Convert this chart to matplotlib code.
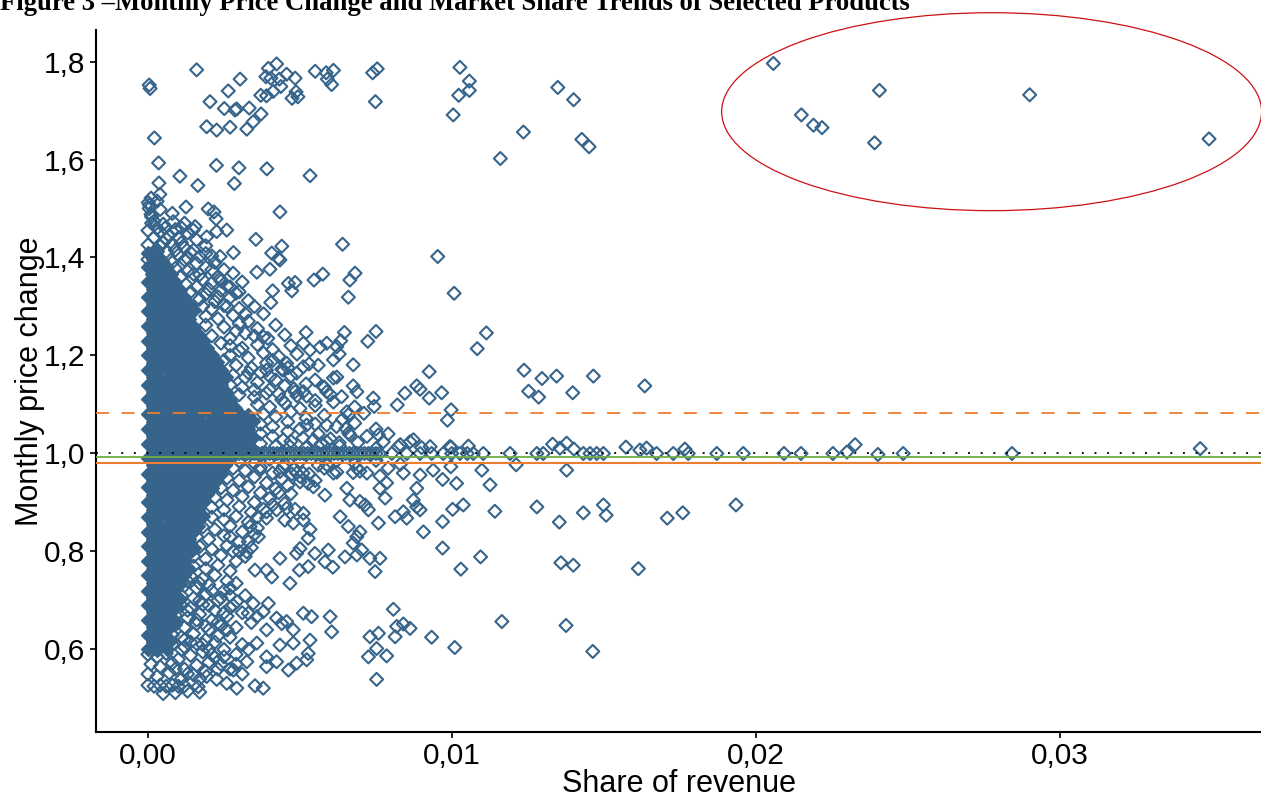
import matplotlib
matplotlib.use("Agg")
import matplotlib.pyplot as plt
from matplotlib.patches import Ellipse
from matplotlib.ticker import FuncFormatter, FixedLocator
import numpy as np

plt.rcParams['font.family'] = ['Liberation Sans', 'DejaVu Sans']
plt.rcParams['lines.scale_dashes'] = False

# ---------------- data (share of revenue, monthly price change) ----------------
outlier_share = [0.02057, 0.02149, 0.02189, 0.02217, 0.02406, 0.02390, 0.02900, 0.03490]
outlier_price = [1.796, 1.691, 1.670, 1.665, 1.741, 1.634, 1.732, 1.642]

flat_points = [
    (.0030, 1.0), (.00312, 1.0), (.00325, 1.0), (.00337, 1.0), (.0035, 1.0), (.00362, 1.0), (.00375, 1.0),
    (.00388, 1.0), (.0040, 1.0), (.00412, 1.0), (.00425, 1.0), (.00437, 1.0), (.0045, 1.0), (.00462, 1.0),
    (.00475, 1.0), (.00488, 1.0), (.0050, 1.0), (.00512, 1.0), (.00525, 1.0), (.00537, 1.0), (.0055, 1.0),
    (.00562, 1.0), (.00575, 1.0), (.00588, 1.0), (.0060, 1.0), (.00612, 1.0), (.00625, 1.0), (.00637, 1.0),
    (.0065, 1.0), (.00662, 1.0), (.00675, 1.0), (.00688, 1.0), (.0070, 1.0), (.00712, 1.0), (.00725, 1.0),
    (.00737, 1.0), (.0075, 1.0), (.00762, 1.0), (.00802, 1.0), (.00851, 1.0), (.00895, 1.0), (.00933, 1.0),
    (.00971, 1.0), (.00999, 1.0), (.01026, 1.0), (.0105, 1.0), (.0107, 1.0), (.01103, 1.0), (.01191, 1.0),
    (.01279, 1.0), (.0130, 1.0), (.01432, 1.0), (.01454, 1.0), (.01476, 1.0), (.01498, 1.0), (.01673, 1.0),
    (.01728, 1.0), (.01777, 1.0), (.01871, 1.0), (.01958, 1.0), (.02092, 1.0), (.02148, 1.0), (.02253, 1.0),
    (.02484, 1.0), (.02842, 1.0), (.00997, 1.013), (.01054, 1.015), (.01331, 1.019), (.01355, 1.011),
    (.01377, 1.021), (.01401, 1.009), (.01572, 1.013), (.01618, 1.007), (.0164, 1.011), (.01766, 1.009),
    (.02299, 1.003), (.02326, 1.018), (.02401, 0.998), (.03461, 1.010),
]

sparse_upper = [
    (.00004, 1.752), (.00007, 1.745), (.0016, 1.783), (.00303, 1.764), (.00264, 1.740), (.00204, 1.718),
    (.00251, 1.704), (.00292, 1.703), (.00286, 1.701), (.00333, 1.705), (.00371, 1.731), (.00396, 1.786),
    (.00423, 1.795), (.00388, 1.769), (.00404, 1.766), (.00432, 1.764), (.00456, 1.774), (.00484, 1.766),
    (.00437, 1.749), (.00412, 1.739), (.0039, 1.730), (.00487, 1.738), (.00474, 1.725), (.00493, 1.728),
    (.0055, 1.780), (.00586, 1.777), (.0061, 1.782), (.0059, 1.764), (.00604, 1.753), (.00739, 1.777),
    (.00754, 1.785), (.00748, 1.718), (.00372, 1.693), (.00346, 1.677), (.00325, 1.662), (.00193, 1.667),
    (.00226, 1.660), (.0027, 1.666), (.00021, 1.644), (.00035, 1.593), (.00225, 1.588), (.00299, 1.583),
    (.00391, 1.581), (.00105, 1.566), (.00533, 1.567), (.00036, 1.552), (.00164, 1.547), (.00284, 1.551),
    (.00039, 1.529), (.00001, 1.512), (.00004, 1.500), (.00125, 1.503), (.00198, 1.499), (.00217, 1.493),
    (.00224, 1.479), (.00434, 1.493), (.00012, 1.483), (.00012, 1.470), (.00083, 1.473), (.00056, 1.460),
    (.00111, 1.460), (.00155, 1.463), (.00149, 1.456), (.00226, 1.453), (.00259, 1.456), (.00193, 1.442),
    (.00355, 1.437), (.0064, 1.427), (.0044, 1.423), (.00953, 1.402), (.00407, 1.409), (.00429, 1.398),
    (.00434, 1.395), (.00281, 1.410), (.00237, 1.402), (.0021, 1.403),
    (.01026, 1.788), (.01057, 1.760), (.01057, 1.741), (.01022, 1.731), (.01004, 1.691), (.01348, 1.747),
    (.0140, 1.722), (.01235, 1.656), (.01427, 1.641), (.01451, 1.626), (.01159, 1.602), (.01007, 1.327),
    (.01113, 1.246), (.01083, 1.214),
    (.00401, 1.376), (.00575, 1.366), (.00546, 1.354), (.00462, 1.347), (.00484, 1.349), (.00473, 1.332),
    (.0041, 1.332), (.00404, 1.308), (.00681, 1.368), (.00664, 1.354), (.00659, 1.319), (.00237, 1.357),
    (.00358, 1.370),
]

sparse_middle = [
    (.0052, 1.247), (.00394, 1.235), (.00646, 1.247), (.0075, 1.249), (.00723, 1.229), (.00634, 1.230),
    (.00621, 1.218), (.00588, 1.225), (.00566, 1.217), (.00511, 1.225), (.00533, 1.211), (.00629, 1.203),
    (.0061, 1.191), (.0056, 1.180), (.00675, 1.181), (.00925, 1.167), (.00511, 1.177), (.00489, 1.164),
    (.00456, 1.184), (.00445, 1.170), (.0061, 1.154), (.00621, 1.156), (.00577, 1.136), (.00588, 1.126),
    (.00675, 1.138), (.00687, 1.126), (.00637, 1.116), (.00741, 1.113), (.00744, 1.096), (.0082, 1.099),
    (.00845, 1.123), (.00884, 1.138), (.00895, 1.131), (.00925, 1.113), (.00522, 1.117), (.00484, 1.126),
    (.00511, 1.126), (.0039, 1.170), (.00401, 1.157), (.00522, 1.058), (.00588, 1.058), (.00654, 1.085),
    (.00659, 1.079), (.00664, 1.038), (.00651, 1.051), (.00758, 1.038), (.00774, 1.024), (.00823, 1.014),
    (.00862, 1.024), (.00873, 1.028), (.00928, 1.014), (.00993, 1.014), (.00588, 1.024), (.00629, 1.022),
    (.00544, 1.028), (.00445, 1.028), (.00467, 1.014),
    (.01237, 1.170), (.01296, 1.153), (.01344, 1.158), (.01465, 1.158), (.01252, 1.127), (.01285, 1.115),
    (.01397, 1.124), (.01634, 1.138), (.00966, 1.124), (.00997, 1.089), (.00985, 1.068),
]

sparse_lower = [
    (.00996, .973), (.01098, .966), (.01211, .977), (.01377, .966), (.00969, .947), (.01015, .939),
    (.01125, .936), (.01002, .886), (.01037, .895), (.01141, .882), (.01279, .891), (.01353, .860),
    (.01432, .879), (.01498, .895), (.01507, .874), (.01708, .868), (.01759, .879), (.01934, .895),
    (.00969, .861), (.00969, .807), (.01094, .789), (.01029, .764), (.01358, .777), (.01399, .772),
    (.01613, .765), (.01164, .657), (.01375, .649), (.01009, .604), (.01463, .596),
    (.00588, .977), (.0061, .960), (.00687, .970), (.0072, .960), (.0079, .970), (.0084, .960),
    (.00895, .956), (.00938, .966), (.00445, .973), (.00489, .960), (.00368, .966), (.00434, .963),
    (.00473, .958), (.0050, .953), (.00621, .962), (.00675, .961), (.00697, .964), (.00763, .954),
    (.00527, .939), (.00544, .932), (.00582, .915), (.00654, .929), (.00664, .905), (.00697, .902),
    (.00714, .895), (.00725, .885), (.00763, .929), (.00785, .940), (.0078, .909), (.00884, .929),
    (.00873, .905), (.00884, .891), (.00895, .885), (.00813, .871), (.0084, .881), (.00851, .868),
    (.00758, .858), (.00906, .840),
    (.0039, .881), (.00423, .885), (.00456, .888), (.00484, .886), (.00511, .878), (.0045, .864),
    (.00478, .858), (.00511, .864), (.00533, .845), (.00527, .827), (.0050, .806), (.00489, .796),
    (.00549, .796), (.00593, .803), (.00582, .779), (.00608, .768), (.00527, .769), (.00498, .762),
    (.00467, .735), (.00434, .786), (.00407, .748), (.0039, .762), (.00352, .762), (.00325, .799),
    (.00363, .830), (.00336, .851), (.00648, .789), (.00687, .793), (.00703, .803), (.0073, .786),
    (.00763, .786), (.00747, .759), (.00675, .817), (.00687, .830), (.00697, .840), (.00659, .851),
    (.00632, .871),
    (.0027, .725), (.00292, .698), (.00346, .694), (.00396, .694), (.0033, .674), (.00358, .667),
    (.00379, .677), (.00423, .664), (.0044, .653), (.00456, .657), (.00511, .674), (.00538, .667),
    (.00599, .667), (.00604, .636), (.00533, .619), (.00478, .640), (.00478, .613), (.00434, .609),
    (.0039, .640), (.00358, .613), (.0039, .585), (.00423, .575), (.00462, .558), (.00489, .572),
    (.00522, .579), (.00527, .592), (.0039, .565), (.00325, .575), (.00281, .558), (.00226, .539),
    (.00259, .531), (.00292, .521), (.00352, .526), (.00379, .521), (.00165, .524), (.00193, .545),
    (.0073, .626), (.00758, .633), (.00807, .682), (.00818, .647), (.0084, .652), (.00862, .643),
    (.00813, .626), (.00933, .625), (.00752, .602), (.00725, .585), (.00785, .587), (.00752, .539),
]

fringe_upper = [
    (.0001, 1.521), (.0003, 1.515), (.00005, 1.507), (.0004, 1.498), (.0001, 1.488), (.0008, 1.490),
    (.0002, 1.474), (.0005, 1.468), (.0012, 1.470), (0, 1.455), (.0004, 1.452), (.0009, 1.457),
    (.0013, 1.450), (.0002, 1.441), (.0006, 1.438), (.0010, 1.440), (.0016, 1.436), (0, 1.426),
    (.0004, 1.423), (.0008, 1.428), (.0012, 1.420), (.0019, 1.424), (.0002, 1.410), (.0006, 1.412),
    (.0010, 1.405), (.0014, 1.410), (.0017, 1.402), (0, 1.396), (.0008, 1.390), (.0012, 1.395),
    (.0016, 1.388), (.0022, 1.390), (.0009, 1.378), (.0013, 1.372), (.0019, 1.380), (.0025, 1.375),
    (.0011, 1.362), (.0015, 1.366), (.0018, 1.355), (.0023, 1.360), (.0028, 1.368), (.00125, 1.345),
    (.0016, 1.340), (.0021, 1.348), (.0026, 1.342), (.0031, 1.350), (.0014, 1.330), (.0019, 1.325),
    (.0024, 1.333), (.0029, 1.327), (.0017, 1.315), (.0022, 1.310), (.0027, 1.318), (.0033, 1.312),
    (.0018, 1.300), (.0021, 1.295), (.0025, 1.302), (.0030, 1.296), (.0035, 1.300), (.0019, 1.280),
    (.0023, 1.275), (.0028, 1.282), (.0033, 1.270), (.0038, 1.285), (.0019, 1.262), (.0025, 1.258),
    (.0030, 1.265), (.0036, 1.255), (.0042, 1.262), (.0021, 1.240), (.0027, 1.235), (.0032, 1.245),
    (.0038, 1.238), (.0045, 1.242), (.0027, 1.220), (.0031, 1.215), (.0036, 1.222), (.0041, 1.212),
    (.0047, 1.220), (.0027, 1.200), (.0033, 1.195), (.0038, 1.205), (.0043, 1.198), (.0049, 1.203),
    (.0029, 1.180), (.0034, 1.175), (.0039, 1.185), (.0044, 1.172), (.0053, 1.183), (.0028, 1.160),
    (.0032, 1.155), (.0037, 1.165), (.0042, 1.150), (.0047, 1.158), (.0055, 1.150), (.0027, 1.140),
    (.0031, 1.135), (.0036, 1.145), (.0040, 1.130), (.0045, 1.138), (.0052, 1.142), (.0058, 1.135),
    (.0030, 1.120), (.0035, 1.115), (.0039, 1.123), (.0044, 1.110), (.0049, 1.118), (.0055, 1.108),
    (.0060, 1.120), (.0036, 1.100), (.0040, 1.095), (.0045, 1.103), (.0050, 1.092), (.0055, 1.098),
    (.0061, 1.105), (.0068, 1.095), (.0038, 1.080), (.0042, 1.075), (.0047, 1.085), (.0052, 1.072),
    (.0058, 1.078), (.0064, 1.070), (.0071, 1.082), (.0037, 1.060), (.0041, 1.055), (.0046, 1.065),
    (.0050, 1.050), (.0055, 1.060), (.0062, 1.055), (.0068, 1.062), (.0075, 1.050), (.0037, 1.040),
    (.0041, 1.035), (.0046, 1.045), (.0051, 1.032), (.0056, 1.040), (.0060, 1.030), (.0066, 1.042),
    (.0072, 1.035), (.0079, 1.040), (.0037, 1.020), (.0042, 1.015), (.0047, 1.025), (.0052, 1.012),
    (.0057, 1.020), (.0063, 1.015), (.0069, 1.022), (.0075, 1.010), (.0083, 1.018), (.0090, 1.012),
    (.0003, 1.460), (.0007, 1.445), (.0011, 1.430), (.0015, 1.415), (.0005, 1.430), (.0009, 1.415),
    (.0013, 1.398), (.0019, 1.408), (.0021, 1.375), (.0017, 1.365), (.0024, 1.352), (.0020, 1.335),
    (.0027, 1.340), (.0023, 1.320), (.0030, 1.330), (.0026, 1.300), (.0032, 1.285), (.0029, 1.250),
    (.0035, 1.240), (.0024, 1.225), (.0030, 1.210), (.0025, 1.190), (.0033, 1.165), (.0041, 1.190),
    (.0046, 1.175), (.0035, 1.130), (.0043, 1.122), (.0048, 1.132),
]

fringe_lower = [
    (.0030, .985), (.0035, .980), (.0040, .988), (.0045, .978), (.0050, .984), (.0056, .976),
    (.0062, .985), (.0068, .980), (.0075, .986), (.0083, .978), (.0028, .970), (.0032, .965),
    (.0037, .972), (.0041, .960), (.0048, .968), (.0053, .958), (.0058, .970), (.0026, .950),
    (.0030, .945), (.0035, .952), (.0039, .940), (.0044, .948), (.0050, .942), (.0024, .930),
    (.0028, .925), (.0033, .932), (.0037, .920), (.0042, .928), (.0047, .918), (.0022, .910),
    (.0026, .905), (.0031, .912), (.0035, .900), (.0040, .908), (.0045, .898), (.0021, .890),
    (.0025, .885), (.0030, .892), (.0034, .880), (.0038, .886), (.0021, .870), (.0025, .865),
    (.0029, .872), (.0033, .860), (.0039, .868), (.0018, .850), (.0022, .845), (.0027, .852),
    (.0031, .840), (.0036, .848), (.0016, .830), (.0020, .825), (.0025, .832), (.0030, .820),
    (.0035, .835), (.0017, .810), (.0021, .805), (.0026, .812), (.0030, .800), (.0034, .808),
    (.0015, .790), (.0019, .785), (.0024, .792), (.0029, .780), (.0015, .770), (.0019, .765),
    (.0023, .772), (.0027, .760), (.0014, .750), (.0018, .745), (.0022, .752), (.0026, .740),
    (.0012, .730), (.0016, .725), (.0020, .732), (.0025, .720), (.0011, .710), (.0015, .705),
    (.0019, .712), (.0023, .700), (.0011, .690), (.0014, .685), (.0018, .692), (.0022, .680),
    (.0027, .686), (.0009, .670), (.0013, .665), (.0017, .672), (.0021, .660), (.0026, .668),
    (.0009, .650), (.0012, .645), (.0016, .652), (.0020, .640), (.0024, .648), (.0008, .630),
    (.0011, .625), (.0015, .632), (.0019, .620), (.0023, .628), (.0008, .610), (.0012, .605),
    (.0016, .612), (.0020, .600), (0, .590), (.0003, .585), (.0006, .592), (.0010, .580),
    (.0014, .588), (.0018, .595), (.0022, .584), (.0001, .570), (.0004, .565), (.0008, .572),
    (.0012, .560), (.0016, .568), (.0020, .574), (0, .550), (.0003, .545), (.0007, .552),
    (.0011, .540), (.0015, .548), (.0019, .555), (0, .527), (.0002, .525), (.0004, .527),
    (.0006, .525), (.0008, .527), (.0010, .525), (.0012, .526), (.0005, .510), (.0009, .512),
    (.0013, .515), (.0017, .513), (.0029, .735), (.0032, .710), (.0028, .690), (.0031, .675),
    (.0034, .655), (.0029, .645), (.0027, .625), (.0031, .610), (.0025, .600), (.0029, .590),
    (.0033, .600), (.0024, .570), (.0027, .560), (.0031, .550),
    (.0013, .740), (.0017, .735), (.0021, .720), (.0024, .705), (.0027, .710), (.0017, .700),
    (.0020, .690), (.0025, .675), (.0013, .680), (.0016, .660), (.0019, .648), (.0023, .655),
    (.0012, .620), (.0014, .615), (.0018, .610), (.0022, .615), (.0026, .640), (.0021, .590),
    (.0025, .585), (.0011, .600), (.0009, .560), (.0013, .550), (.0017, .540), (.0023, .560),
    (.0029, .570), (.0028, .800), (.0032, .790), (.0027, .830), (.0033, .820), (.0036, .870),
    (.0041, .895), (.0043, .920), (.0046, .935), (.0051, .960), (.0055, .945),
]

core_upper = [
    (0, 1.410), (.0003, 1.413), (.00016, 1.396), (.00046, 1.393), (0, 1.381), (.00031, 1.378), (.0006, 1.382),
    (.00014, 1.366), (.00045, 1.363), (.00076, 1.367), (0, 1.351), (.0003, 1.348), (.00061, 1.352), (.0009, 1.349),
    (.00015, 1.336), (.00044, 1.333), (.00075, 1.337), (.00106, 1.334),
    (0, 1.319), (.00031, 1.322), (.0006, 1.318), (.00089, 1.321), (.0012, 1.320),
    (.00016, 1.306), (.00045, 1.303), (.00074, 1.307), (.00105, 1.304), (.00136, 1.305),
    (0, 1.291), (.0003, 1.288), (.00061, 1.292), (.0009, 1.289), (.00121, 1.290), (.0015, 1.292),
    (.00015, 1.274), (.00046, 1.277), (.00075, 1.273), (.00104, 1.276), (.00135, 1.275),
    (0, 1.261), (.00029, 1.258), (.0006, 1.262), (.00091, 1.259), (.0012, 1.261), (.0015, 1.258),
    (.00015, 1.246), (.00045, 1.243), (.00076, 1.247), (.00105, 1.244), (.00134, 1.246), (.00166, 1.243),
    (0, 1.229), (.0003, 1.232), (.00061, 1.228), (.0009, 1.231), (.00119, 1.229), (.0015, 1.232), (.00181, 1.230),
    (.00015, 1.216), (.00046, 1.213), (.00075, 1.217), (.00104, 1.214), (.00136, 1.216), (.00165, 1.213), (.00195, 1.215),
    (0, 1.201), (.0003, 1.198), (.0006, 1.202), (.00091, 1.199), (.0012, 1.201), (.00149, 1.198), (.0018, 1.202), (.0021, 1.200),
    (.00015, 1.184), (.00045, 1.187), (.00076, 1.183), (.00105, 1.186), (.00134, 1.184), (.00166, 1.187), (.00195, 1.183), (.00226, 1.186),
    (0, 1.171), (.0003, 1.168), (.00061, 1.172), (.0009, 1.169), (.0012, 1.171), (.00151, 1.168), (.0018, 1.172), (.00209, 1.169), (.0024, 1.171),
    (.00015, 1.156), (.00044, 1.153), (.00075, 1.157), (.00106, 1.154), (.00135, 1.156), (.00164, 1.153), (.00195, 1.157), (.00225, 1.154), (.00256, 1.156),
    (0, 1.139), (.00031, 1.142), (.0006, 1.138), (.00089, 1.141), (.0012, 1.139), (.0015, 1.142), (.00181, 1.138), (.0021, 1.141), (.00239, 1.139),
    (.00016, 1.126), (.00045, 1.123), (.00074, 1.127), (.00105, 1.124), (.00136, 1.126), (.00165, 1.123), (.00194, 1.127), (.00225, 1.124), (.00255, 1.126),
    (0, 1.111), (.0003, 1.108), (.00061, 1.112), (.0009, 1.109), (.00119, 1.111), (.0015, 1.108), (.00181, 1.112), (.0021, 1.109), (.0024, 1.111), (.0027, 1.108),
    (.00015, 1.096), (.00046, 1.093), (.00075, 1.097), (.00104, 1.094), (.00135, 1.096), (.00166, 1.093), (.00195, 1.097), (.00224, 1.094), (.00255, 1.096), (.00286, 1.093),
    (0, 1.081), (.0003, 1.078), (.0006, 1.082), (.00091, 1.079), (.0012, 1.081), (.0015, 1.078), (.00179, 1.082), (.0021, 1.079), (.00241, 1.081), (.0027, 1.078), (.0030, 1.082), (.0033, 1.079),
    (.00015, 1.064), (.00045, 1.067), (.00076, 1.063), (.00105, 1.066), (.00134, 1.064), (.00165, 1.067), (.00196, 1.063), (.00225, 1.066), (.00254, 1.064), (.00285, 1.067), (.00316, 1.063), (.00345, 1.066),
    (0, 1.051), (.00031, 1.048), (.0006, 1.052), (.00089, 1.049), (.0012, 1.051), (.00151, 1.048), (.0018, 1.052), (.0021, 1.049), (.00239, 1.051), (.0027, 1.048), (.00301, 1.052), (.0033, 1.049),
    (.00015, 1.036), (.00045, 1.033), (.00074, 1.037), (.00105, 1.034), (.00136, 1.036), (.00165, 1.033), (.00194, 1.037), (.00225, 1.034), (.00256, 1.036), (.00285, 1.033), (.00314, 1.037), (.00345, 1.034),
    (0, 1.019), (.0003, 1.022), (.00061, 1.018), (.0009, 1.021), (.00119, 1.019), (.0015, 1.022), (.00181, 1.018), (.0021, 1.021), (.00239, 1.019), (.0027, 1.022), (.00301, 1.018), (.0033, 1.021),
    (.00015, 1.006), (.00046, 1.003), (.00075, 1.007), (.00104, 1.004), (.00135, 1.006), (.00166, 1.003), (.00195, 1.007), (.00224, 1.004), (.00255, 1.006), (.00286, 1.003), (.00315, 1.007), (.00344, 1.004),
]

core_lower = [
    (0, .991), (.0003, .988), (.0006, .992), (.00091, .989), (.0012, .991), (.00149, .988), (.0018, .992), (.00211, .989), (.0024, .991), (.0027, .988),
    (.00015, .976), (.00045, .973), (.00076, .977), (.00105, .974), (.00134, .976), (.00165, .973), (.00196, .977), (.00225, .974), (.00254, .976),
    (0, .959), (.00031, .962), (.0006, .958), (.00089, .961), (.0012, .959), (.00151, .962), (.0018, .958), (.00209, .961), (.0024, .959),
    (.00016, .946), (.00045, .943), (.00074, .947), (.00105, .944), (.00136, .946), (.00165, .943), (.00194, .947), (.00225, .944),
    (0, .931), (.0003, .928), (.00061, .932), (.0009, .929), (.00119, .931), (.0015, .928), (.00181, .932), (.0021, .929),
    (.00015, .916), (.00046, .913), (.00075, .917), (.00104, .914), (.00135, .916), (.00166, .913), (.00195, .917),
    (0, .901), (.0003, .898), (.0006, .902), (.00091, .899), (.0012, .901), (.00149, .898), (.0018, .902),
    (.00015, .884), (.00045, .887), (.00076, .883), (.00105, .886), (.00134, .884), (.00165, .887),
    (0, .871), (.0003, .868), (.00061, .872), (.0009, .869), (.0012, .871), (.00151, .868), (.0018, .872),
    (.00015, .856), (.00044, .853), (.00075, .857), (.00106, .854), (.00135, .856), (.00164, .853),
    (0, .839), (.00031, .842), (.0006, .838), (.00089, .841), (.0012, .839), (.0015, .842),
    (.00016, .826), (.00045, .823), (.00074, .827), (.00105, .824), (.00136, .826),
    (0, .811), (.0003, .808), (.00061, .812), (.0009, .809), (.00119, .811), (.0015, .808),
    (.00015, .796), (.00046, .793), (.00075, .797), (.00104, .794), (.00135, .796),
    (0, .781), (.0003, .778), (.0006, .782), (.00091, .779), (.0012, .781),
    (.00015, .764), (.00045, .767), (.00076, .763), (.00105, .766), (.00134, .764),
    (0, .751), (.00031, .748), (.0006, .752), (.00089, .749), (.0012, .751),
    (.00015, .736), (.00045, .733), (.00074, .737), (.00105, .734),
    (0, .719), (.0003, .722), (.00061, .718), (.0009, .721),
    (.00016, .706), (.00046, .703), (.00075, .707), (.00104, .704),
    (0, .691), (.0003, .688), (.0006, .692), (.00091, .689),
    (.00015, .676), (.00045, .673), (.00076, .677),
    (0, .661), (.0003, .658), (.00061, .662), (.0009, .659),
    (.00015, .646), (.00044, .643), (.00075, .647),
    (0, .629), (.00031, .632), (.0006, .628),
    (.00016, .616), (.00045, .613), (.00074, .617),
    (0, .601), (.0003, .598), (.00061, .602),
]

# reference lines (monthly price change)
ref_one = 1.0
green_level = 0.993
orange_level = 0.9815
orange_dashed_level = 1.083

x_ticks = [0.00, 0.01, 0.02, 0.03]
y_ticks = [0.6, 0.8, 1.0, 1.2, 1.4, 1.6, 1.8]

title_text = "Figure 3 \u2013Monthly Price Change and Market Share Trends of Selected Products"

# ---------------- drawing ----------------
BLUE = '#36648B'
ORANGE = '#ED7D31'
GREEN = '#70AD47'
RED = '#CC1111'


def split(points):
    arr = np.array(points, dtype=float)
    return arr[:, 0], arr[:, 1]


fig = plt.figure(figsize=(12.61, 7.96), dpi=100)
ax = fig.add_axes([96 / 1261, 64 / 796, 1165 / 1261, 702 / 796])

MS = 44
LW = 1.5

cx_u, cy_u = split(core_upper)
cx_l, cy_l = split(core_lower)
ax.scatter(np.concatenate([cx_u, cx_l]), np.concatenate([cy_u, cy_l]), marker='D', s=MS,
           facecolors=BLUE, edgecolors=BLUE, linewidths=LW, zorder=2)

hollow_x = []
hollow_y = []
for group in (fringe_upper, fringe_lower, sparse_upper, sparse_middle, sparse_lower, flat_points):
    gx, gy = split(group)
    hollow_x.append(gx)
    hollow_y.append(gy)
hollow_x.append(np.array(outlier_share))
hollow_y.append(np.array(outlier_price))
ax.scatter(np.concatenate(hollow_x), np.concatenate(hollow_y), marker='D', s=MS,
           facecolors='none', edgecolors=BLUE, linewidths=LW, zorder=3)

ax.axhline(orange_dashed_level, color=ORANGE, lw=1.3, dashes=(9.4, 9.0), zorder=4)
ax.axhline(orange_level, color=ORANGE, lw=1.5, zorder=4)
ax.axhline(green_level, color=GREEN, lw=1.3, zorder=5)
ax.axhline(ref_one, color='black', lw=1.3, dashes=(1.4, 7.7), zorder=6)

ax.add_patch(Ellipse((0.02775, 1.6976), width=0.01776, height=0.404, fill=False,
                     edgecolor=RED, lw=0.9, zorder=7, clip_on=False))

ax.set_xlim(-0.00171, 0.03661)
ax.set_ylim(0.4316, 1.8643)

ax.xaxis.set_major_locator(FixedLocator(x_ticks))
ax.yaxis.set_major_locator(FixedLocator(y_ticks))
ax.xaxis.set_major_formatter(FuncFormatter(lambda v, p: f"{v:.2f}".replace('.', ',')))
ax.yaxis.set_major_formatter(FuncFormatter(lambda v, p: f"{v:.1f}".replace('.', ',')))

for side in ('top', 'right'):
    ax.spines[side].set_visible(False)
for side in ('left', 'bottom'):
    ax.spines[side].set_linewidth(1.5)
    ax.spines[side].set_color('black')

ax.tick_params(axis='both', direction='out', length=4.5, width=1.2, colors='black',
               labelsize=21.5, pad=3)

ax.set_xlabel("Share of revenue", fontsize=22, color='black')
ax.set_ylabel("Monthly price change", fontsize=22, color='black')
ax.xaxis.set_label_coords(0.5, -0.052)
ax.yaxis.set_label_coords(-0.044, 0.5)

fig.text(0.0, 1 - 10 / 796, title_text, fontfamily='Liberation Serif', fontweight='bold',
         fontsize=19.2, ha='left', va='baseline', color='black')

fig.savefig("out.png", dpi=100)
